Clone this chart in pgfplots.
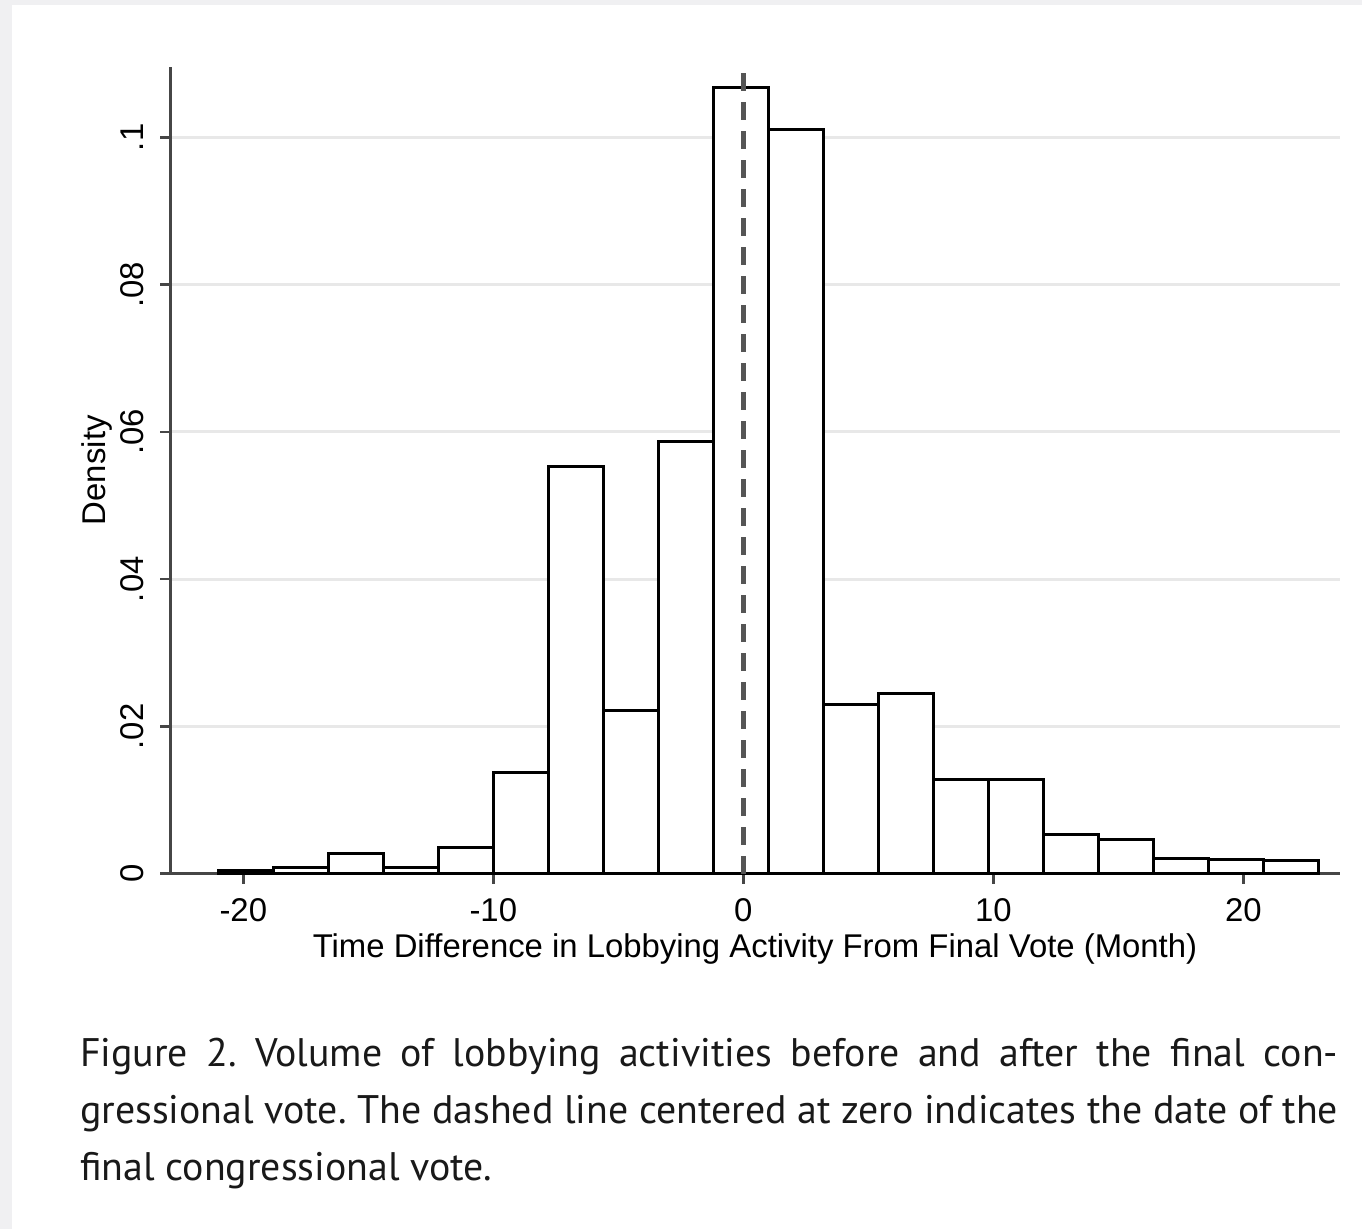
\documentclass[border=0pt]{standalone}
\usepackage{pgfplots}
\pgfplotsset{compat=1.18}
\usepackage{fontspec}
\setmainfont{Liberation Sans}
\newfontfamily\capfont{PT Sans}
\definecolor{bordergray}{RGB}{240,240,242}
\definecolor{gridgray}{RGB}{232,232,232}
\definecolor{axisgray}{RGB}{70,70,70}
\definecolor{dashgray}{RGB}{85,85,85}
\definecolor{captext}{RGB}{25,25,25}
\frenchspacing

\pgfplotstableread{
left  dens
-21.0 0.0004
-18.8 0.00087
-16.6 0.00274
-14.4 0.00087
-12.2 0.0035
-10.0 0.01372
-7.8  0.05528
-5.6  0.02214
-3.4  0.05867
-1.2  0.1068
1.0   0.10114
3.2   0.02305
5.4   0.0245
7.6   0.01286
9.8   0.01286
12.0  0.0053
14.2  0.00471
16.4  0.00213
18.6  0.0019
20.8  0.0018
23.0  0.0018
}\histdata

\begin{document}
\begin{tikzpicture}[x=1bp,y=1bp]
\fill[bordergray] (0,0) rectangle (1362,-1229);
\fill[white] (12,-5) rectangle (1362,-1229);
\path[use as bounding box] (0,0) rectangle (1362,-1229);
\begin{axis}[
  at={(170bp,-873.7bp)}, anchor=south west,
  scale only axis, width=1170bp, height=807bp,
  xmin=-22.932, xmax=23.868, ymin=0, ymax=0.1096,
  axis lines=left,
  axis line style={axisgray, line width=3bp, -},
  tick align=outside, major tick length=10bp,
  tick style={axisgray, line width=2.5bp},
  xtick={-20,-10,0,10,20}, xticklabels={-20,-10,0,10,20},
  ytick={0,0.02,0.04,0.06,0.08,0.1}, yticklabels={0,.02,.04,.06,.08,.1},
  ymajorgrids, major grid style={gridgray, line width=3bp},
  tick label style={font=\fontsize{33}{39}\selectfont, text=black},
  xticklabel style={anchor=base, yshift=-38bp},
  yticklabel style={xshift=-17bp, rotate=90, anchor=base},
  every axis x label/.style={at={(axis description cs:0.5,0)}, yshift=-84bp, anchor=base, font=\fontsize{33}{39}\selectfont},
  every axis y label/.style={at={(axis description cs:0,0.5)}, xshift=-65bp, rotate=90, anchor=base, font=\fontsize{33}{39}\selectfont},
  xlabel={Time Difference in Lobbying Activity From Final Vote (Month)},
  ylabel={Density},
  clip=false,
]
\addplot[ybar interval, fill=white, draw=black, line width=3bp] table[x=left, y=dens] {\histdata};
\addplot[dashgray, line width=5.5bp, dash pattern=on 18bp off 11bp] coordinates {(0,0) (0,0.1096)};
\end{axis}
\begin{scope}[font=\capfont\fontsize{40}{57}\selectfont, text=captext]
\node[anchor=base west, inner sep=0] at (80,-1066) {\makebox[1258bp][s]{Figure 2. Volume of lobbying activities before and after the final con-}};
\node[anchor=base west, inner sep=0] at (80,-1123) {\makebox[1258bp][s]{gressional vote. The dashed line centered at zero indicates the date of the}};
\node[anchor=base west, inner sep=0] at (80,-1180) {final congressional vote.};
\end{scope}
\end{tikzpicture}
\end{document}
